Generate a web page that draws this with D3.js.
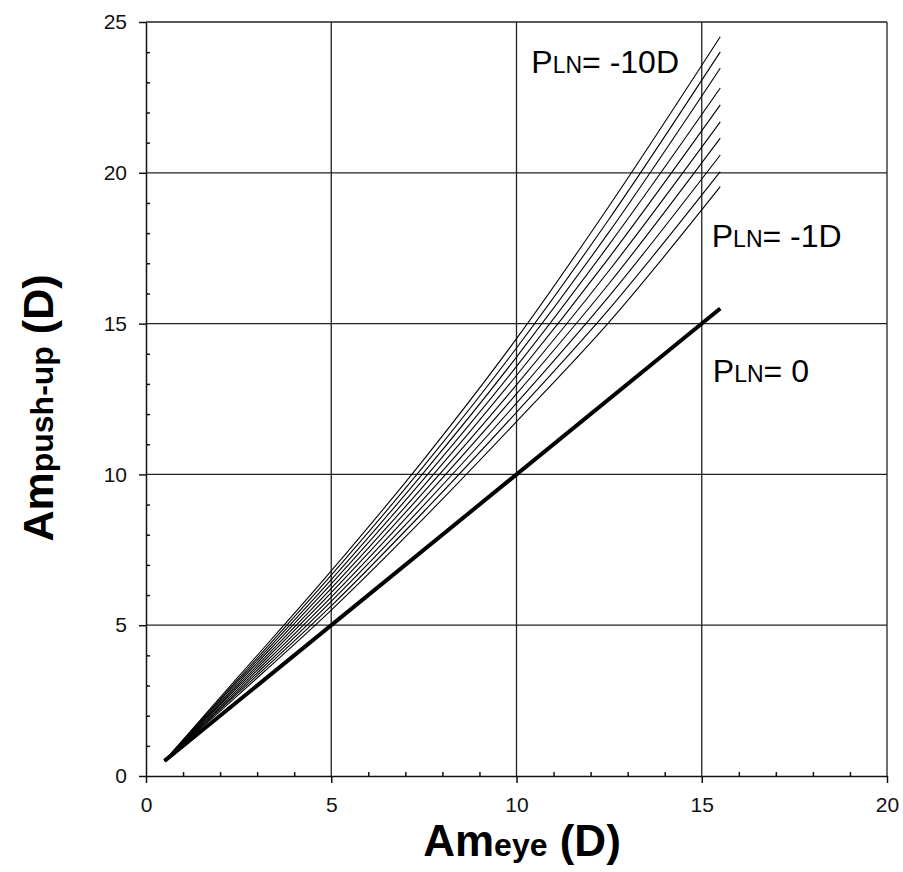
<!DOCTYPE html>
<meta charset="utf-8">
<style>
body { margin: 0; background: #fff; }
svg { font-family: "Liberation Sans", Arial, sans-serif; }
</style>
<body>
<script src="https://cdn.jsdelivr.net/npm/d3@7"></script>
<script>

var width = 903,
    height = 872,
    margin = {top: 22, right: 16, bottom: 96, left: 146};

var xTicks = [0, 5, 10, 15, 20],
    yTicks = [0, 5, 10, 15, 20, 25];

// Am_eye sample points
var amEye = [0.5, 2.5, 5, 7.5, 10, 12.5, 15.5];

var lensPowers = [-1, -2, -3, -4, -5, -6, -7, -8, -9, -10];

var pushUp = [
  [0.50, 2.70, 5.50, 8.55, 11.75, 15.05, 19.54],
  [0.50, 2.77, 5.64, 8.77, 12.06, 15.48, 20.04],
  [0.50, 2.83, 5.79, 8.98, 12.36, 15.91, 20.59],
  [0.50, 2.90, 5.93, 9.20, 12.67, 16.33, 21.15],
  [0.50, 2.97, 6.08, 9.42, 12.97, 16.76, 21.69],
  [0.50, 3.03, 6.22, 9.63, 13.28, 17.19, 22.25],
  [0.50, 3.10, 6.37, 9.85, 13.58, 17.62, 22.81],
  [0.50, 3.17, 6.51, 10.07, 13.89, 18.04, 23.47],
  [0.50, 3.23, 6.66, 10.28, 14.19, 18.47, 24.01],
  [0.50, 3.30, 6.80, 10.50, 14.50, 18.90, 24.51]
];

// P_LN = 0
var zeroEye = [0.5, 15.5],
    zeroPushUp = [0.5, 15.5];

var labels = [
  {x: 10.4, y: 23.3, text: "= -10D"},
  {x: 15.27, y: 17.55, text: "= -1D"},
  {x: 15.3, y: 13.07, text: "= 0"}
];

var x = d3.scaleLinear()
    .domain([0, 20])
    .range([margin.left, width - margin.right]);

var y = d3.scaleLinear()
    .domain([0, 25])
    .range([height - margin.bottom, margin.top]);

var svg = d3.select("body").append("svg")
    .attr("width", width)
    .attr("height", height);

// grid
svg.append("g")
    .selectAll("line")
    .data(xTicks.slice(1))
    .enter().append("line")
    .attr("x1", d => x(d)).attr("x2", d => x(d))
    .attr("y1", y(0)).attr("y2", y(25))
    .attr("stroke", "#222").attr("stroke-width", 1.3);

svg.append("g")
    .selectAll("line")
    .data(yTicks.slice(1))
    .enter().append("line")
    .attr("x1", x(0)).attr("x2", x(20))
    .attr("y1", d => y(d)).attr("y2", d => y(d))
    .attr("stroke", "#222").attr("stroke-width", 1.3);

// axes: major ticks outside, minor ticks inside
svg.append("g")
    .attr("transform", "translate(0," + y(0) + ")")
    .call(d3.axisBottom(x).tickValues(xTicks).tickSize(7).tickPadding(14).tickSizeOuter(0));

svg.append("g")
    .attr("transform", "translate(" + x(0) + ",0)")
    .call(d3.axisLeft(y).tickValues(yTicks).tickSize(7).tickPadding(12).tickSizeOuter(0));

svg.append("g")
    .attr("transform", "translate(0," + y(0) + ")")
    .call(d3.axisTop(x).tickValues(d3.range(1, 20).filter(d => d % 5)).tickSize(4).tickFormat(""))
    .select(".domain").remove();

svg.append("g")
    .attr("transform", "translate(" + x(0) + ",0)")
    .call(d3.axisRight(y).tickValues(d3.range(1, 25).filter(d => d % 5)).tickSize(4).tickFormat(""))
    .select(".domain").remove();

svg.selectAll(".domain, .tick line")
    .attr("stroke", "#111")
    .attr("stroke-width", 1.5);

svg.selectAll(".tick text")
    .attr("font-family", "Liberation Sans, Arial, sans-serif")
    .attr("font-size", 21)
    .attr("fill", "#111");

// curves
var line = d3.line()
    .x(d => x(d[0]))
    .y(d => y(d[1]))
    .curve(d3.curveMonotoneX);

svg.append("g")
    .selectAll("path")
    .data(pushUp)
    .enter().append("path")
    .attr("fill", "none")
    .attr("stroke", "#000")
    .attr("stroke-width", 1.1)
    .attr("d", d => line(d.map((v, i) => [amEye[i], v])));

svg.append("path")
    .attr("fill", "none")
    .attr("stroke", "#000")
    .attr("stroke-width", 4)
    .attr("d", line(zeroEye.map((v, i) => [v, zeroPushUp[i]])));

// curve labels
var lab = svg.append("g")
    .selectAll("text")
    .data(labels)
    .enter().append("text")
    .attr("x", d => x(d.x))
    .attr("y", d => y(d.y))
    .attr("font-size", 32);

lab.append("tspan").text("P");
lab.append("tspan").attr("font-size", 23).text("LN");
lab.append("tspan").text(d => d.text);

// axis titles
var xt = svg.append("text")
    .attr("x", 522)
    .attr("y", 856)
    .attr("text-anchor", "middle")
    .attr("font-weight", "bold")
    .attr("font-size", 44);
xt.append("tspan").text("Am");
xt.append("tspan").attr("font-size", 32).text("eye");
xt.append("tspan").text(" (D)");

var yt = svg.append("text")
    .attr("transform", "translate(53,408) rotate(-90)")
    .attr("text-anchor", "middle")
    .attr("font-weight", "bold")
    .attr("font-size", 43);
yt.append("tspan").text("Am");
yt.append("tspan").attr("font-size", 32).text("push-up");
yt.append("tspan").text(" (D)");

</script>
